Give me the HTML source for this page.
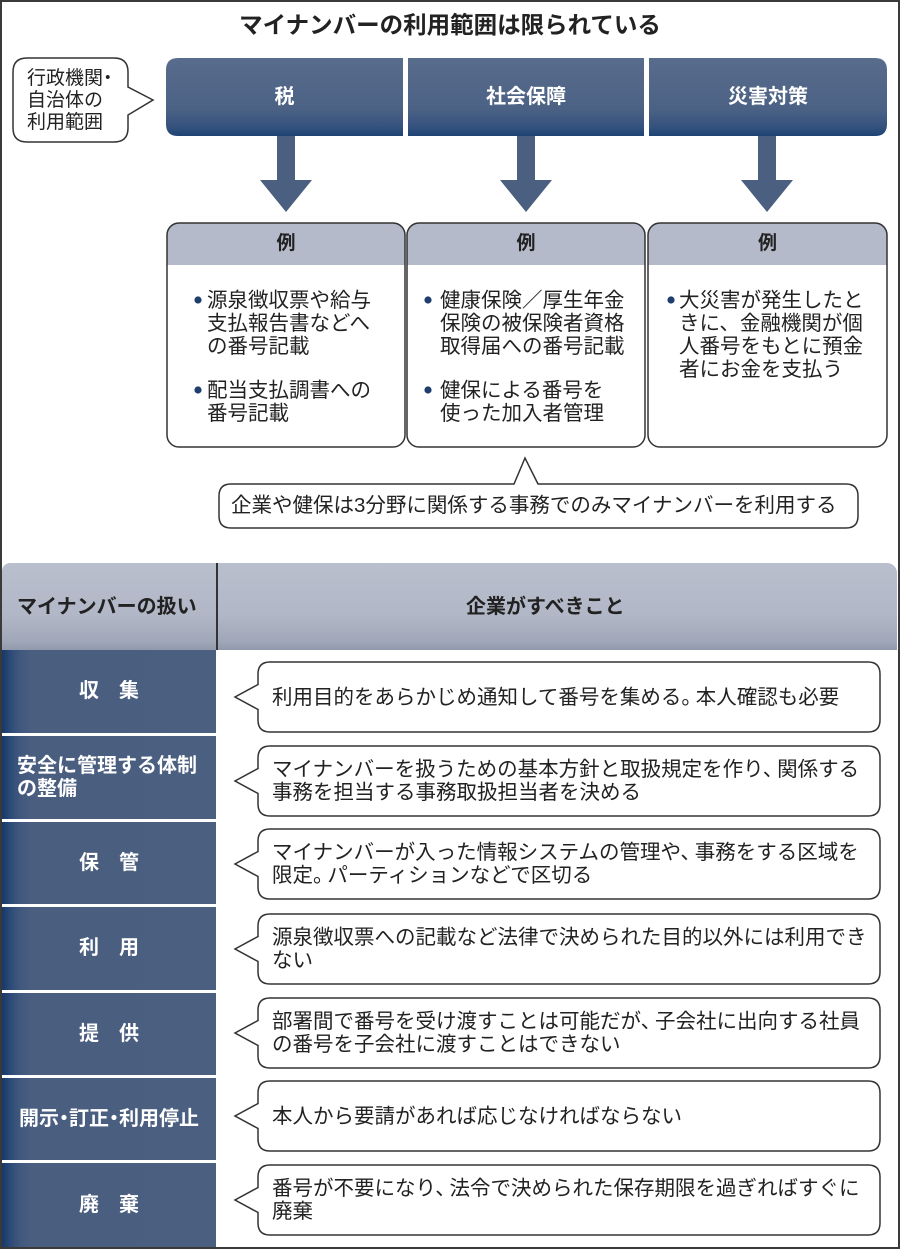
<!DOCTYPE html>
<html><head><meta charset="utf-8">
<style>
*{margin:0;padding:0;box-sizing:border-box}
body{width:900px;height:1249px;position:relative;background:#fff;font-family:"Liberation Sans","Noto Sans CJK JP",sans-serif;color:#222;overflow:hidden}
.a{position:absolute}
.frame{left:0;top:0;width:900px;height:1249px;border:2px solid #3a3a3a;z-index:10}
.title{left:0;top:10px;width:900px;height:30px;line-height:30px;text-align:center;font-size:23.5px;font-weight:bold;color:#222}
.bl{color:#fff;font-weight:bold;font-size:20px;text-align:center;line-height:78px;top:58px;height:78px}
.ex{font-weight:bold;font-size:19px;text-align:center;top:223px;height:42px;line-height:42px;color:#222}
.bt{font-size:20.5px;line-height:23px;white-space:nowrap;color:#222}
.lc{left:2px;width:214px;background:linear-gradient(to right,#163868 0px,#2c4a77 8px,#41587d 18px,#4a5e80 30px,#4b5f81 100%);color:#fff;font-weight:bold;font-size:20px;display:flex;align-items:center;justify-content:center;line-height:23px;white-space:nowrap}
.bb{left:272px;width:600px;height:70px;display:flex;align-items:center;font-size:20.5px;line-height:23px;white-space:nowrap;color:#222}
.p{margin-right:-0.3em}
.d{margin:0 -0.25em}
.hd{top:563px;height:87px;background:linear-gradient(to bottom,#b9bfcd 0%,#b1b7c6 60%,#a0a7b8 90%,#9199ac 100%)}
</style></head>
<body>
<svg class="a" style="left:0;top:0" width="900" height="1249">
<defs>
<linearGradient id="bar" x1="0" y1="0" x2="0" y2="1">
<stop offset="0" stop-color="#586c8c"/>
<stop offset="0.65" stop-color="#4c6285"/>
<stop offset="0.88" stop-color="#35527e"/>
<stop offset="1" stop-color="#1d4473"/>
</linearGradient>
</defs>
<!-- left bubble -->
<path d="M27,58 H114 Q128,58 128,72 V87 L153,100 L128,115 V128 Q128,142 114,142 H27 Q13,142 13,128 V72 Q13,58 27,58 Z" fill="#fff" stroke="#333" stroke-width="1.5"/>
<!-- bars -->
<path d="M178,58 H403 V136 H178 Q166,136 166,124 V70 Q166,58 178,58 Z" fill="url(#bar)"/>
<rect x="408" y="58" width="236" height="78" fill="url(#bar)"/>
<path d="M649,58 H875 Q887,58 887,70 V124 Q887,136 875,136 H649 Z" fill="url(#bar)"/>
<!-- arrows -->
<g fill="#4b5f80">
<polygon points="277,136 295,136 295,180 312,180 286,212 260,180 277,180"/>
<polygon points="517,136 535,136 535,180 552,180 526,212 500,180 517,180"/>
<polygon points="758,136 776,136 776,180 793,180 767,212 741,180 758,180"/>
</g>
<!-- example boxes -->
<rect x="167" y="223" width="238" height="224" rx="12" fill="#fff"/>
<rect x="407" y="223" width="238" height="224" rx="12" fill="#fff"/>
<rect x="648" y="223" width="239" height="224" rx="12" fill="#fff"/>
<path d="M167,265 V235 Q167,223 179,223 H393 Q405,223 405,235 V265 Z" fill="#b4bac9"/>
<path d="M407,265 V235 Q407,223 419,223 H633 Q645,223 645,235 V265 Z" fill="#b4bac9"/>
<path d="M648,265 V235 Q648,223 660,223 H875 Q887,223 887,235 V265 Z" fill="#b4bac9"/>
<g fill="none" stroke="#333" stroke-width="1.5">
<rect x="167" y="223" width="238" height="224" rx="12"/>
<rect x="407" y="223" width="238" height="224" rx="12"/>
<rect x="648" y="223" width="239" height="224" rx="12"/>
</g>
<g fill="#1f3d6d">
<circle cx="198" cy="300" r="3.6"/>
<circle cx="198" cy="390" r="3.6"/>
<circle cx="428" cy="300" r="3.6"/>
<circle cx="428" cy="390" r="3.6"/>
<circle cx="671" cy="300" r="3.6"/>
</g>
<!-- bottom bubble -->
<path d="M231,484 H514 L525,458 L538,484 H846 Q858,484 858,496 V516 Q858,528 846,528 H231 Q219,528 219,516 V496 Q219,484 231,484 Z" fill="#fff" stroke="#333" stroke-width="1.5"/>
<!-- row bubbles -->
<g fill="#fff" stroke="#333" stroke-width="1.5">
<path d="M270,662 H868 Q880,662 880,674 V720 Q880,732 868,732 H270 Q258,732 258,720 V709.5 L235,697 L258,684.5 V674 Q258,662 270,662 Z"/>
<path d="M270,746 H868 Q880,746 880,758 V804 Q880,816 868,816 H270 Q258,816 258,804 V793.5 L235,781 L258,768.5 V758 Q258,746 270,746 Z"/>
<path d="M270,829 H868 Q880,829 880,841 V887 Q880,899 868,899 H270 Q258,899 258,887 V876.5 L235,864 L258,851.5 V841 Q258,829 270,829 Z"/>
<path d="M270,914 H868 Q880,914 880,926 V972 Q880,984 868,984 H270 Q258,984 258,972 V961.5 L235,949 L258,936.5 V926 Q258,914 270,914 Z"/>
<path d="M270,998 H868 Q880,998 880,1010 V1056 Q880,1068 868,1068 H270 Q258,1068 258,1056 V1045.5 L235,1033 L258,1020.5 V1010 Q258,998 270,998 Z"/>
<path d="M270,1081 H868 Q880,1081 880,1093 V1139 Q880,1151 868,1151 H270 Q258,1151 258,1139 V1128.5 L235,1116 L258,1103.5 V1093 Q258,1081 270,1081 Z"/>
<path d="M270,1165 H868 Q880,1165 880,1177 V1223 Q880,1235 868,1235 H270 Q258,1235 258,1223 V1212.5 L235,1200 L258,1187.5 V1177 Q258,1165 270,1165 Z"/>
</g>
</svg>

<div class="a title">マイナンバーの利用範囲は限られている</div>

<div class="a" style="left:27px;top:68px;font-size:19px;line-height:22px;white-space:nowrap;color:#222">行政機関<span class="d">・</span><br>自治体の<br>利用範囲</div>

<div class="a bl" style="left:166px;width:237px">税</div>
<div class="a bl" style="left:408px;width:236px">社会保障</div>
<div class="a bl" style="left:649px;width:238px">災害対策</div>

<div class="a ex" style="left:167px;width:238px">例</div>
<div class="a ex" style="left:407px;width:238px">例</div>
<div class="a ex" style="left:648px;width:239px">例</div>

<div class="a bt" style="left:207px;top:288.5px">源泉徴収票や給与<br>支払報告書などへ<br>の番号記載</div>
<div class="a bt" style="left:207px;top:378.5px">配当支払調書への<br>番号記載</div>
<div class="a bt" style="left:440px;top:288.5px">健康保険／厚生年金<br>保険の被保険者資格<br>取得届への番号記載</div>
<div class="a bt" style="left:440px;top:378.5px">健保による番号を<br>使った加入者管理</div>
<div class="a bt" style="left:679px;top:288.5px">大災害が発生したと<br>きに、金融機関が個<br>人番号をもとに預金<br>者にお金を支払う</div>

<div class="a bt" style="left:231px;top:493.5px">企業や健保は3分野に関係する事務でのみマイナンバーを利用する</div>

<!-- table header -->
<div class="a hd" style="left:2px;width:214px;border-top-left-radius:8px"></div>
<div class="a hd" style="left:218px;width:679px;border-top-right-radius:10px"></div>
<div class="a" style="left:216px;top:563px;width:2px;height:87px;background:#333"></div>
<div class="a" style="left:17px;top:595px;font-size:20px;font-weight:bold;line-height:24px;white-space:nowrap;color:#222">マイナンバーの扱い</div>
<div class="a" style="left:466px;top:595px;font-size:20px;font-weight:bold;line-height:24px;white-space:nowrap;color:#222">企業がすべきこと</div>

<!-- left cells -->
<div class="a lc" style="top:650px;height:83px">収　集</div>
<div class="a lc" style="top:736px;height:83px;justify-content:flex-start;padding-left:15px">安全に管理する体制<br>の整備</div>
<div class="a lc" style="top:822px;height:82px">保　管</div>
<div class="a lc" style="top:907px;height:83px">利　用</div>
<div class="a lc" style="top:993px;height:82px">提　供</div>
<div class="a lc" style="top:1078px;height:82px">開示<span class="d">・</span>訂正<span class="d">・</span>利用停止</div>
<div class="a lc" style="top:1163px;height:84px">廃　棄</div>

<!-- bubble texts -->
<div class="a bb" style="top:662px"><div>利用目的をあらかじめ通知して番号を集める<span class="p">。</span>本人確認も必要</div></div>
<div class="a bb" style="top:746px"><div>マイナンバーを扱うための基本方針と取扱規定を作り<span class="p">、</span>関係する<br>事務を担当する事務取扱担当者を決める</div></div>
<div class="a bb" style="top:829px"><div>マイナンバーが入った情報システムの管理や<span class="p">、</span>事務をする区域を<br>限定<span class="p">。</span>パーティションなどで区切る</div></div>
<div class="a bb" style="top:914px"><div>源泉徴収票への記載など法律で決められた目的以外には利用でき<br>ない</div></div>
<div class="a bb" style="top:998px"><div>部署間で番号を受け渡すことは可能だが<span class="p">、</span>子会社に出向する社員<br>の番号を子会社に渡すことはできない</div></div>
<div class="a bb" style="top:1081px"><div>本人から要請があれば応じなければならない</div></div>
<div class="a bb" style="top:1165px"><div>番号が不要になり<span class="p">、</span>法令で決められた保存期限を過ぎればすぐに<br>廃棄</div></div>

<div class="a frame"></div>
</body></html>
